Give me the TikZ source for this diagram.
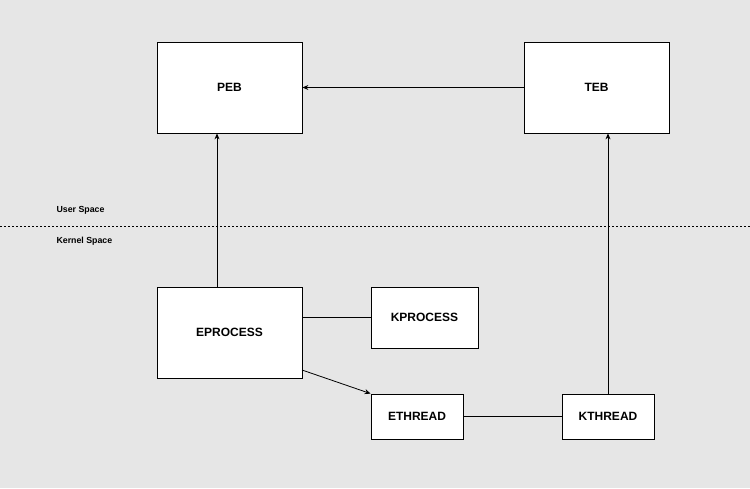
\documentclass[tikz,border=0pt]{standalone}
\usepackage{fontspec}
\setmainfont{Liberation Sans}
\usetikzlibrary{arrows.meta}
\definecolor{bggray}{HTML}{E6E6E6}
\begin{document}
\begin{tikzpicture}[x=1pt,y=-1pt,
      box/.style={
        draw=black,
        fill=white,
        line width=0.8pt,
        font=\bfseries\fontsize{12}{14}\selectfont,
        inner sep=0pt
      },
      lbl/.style={font=\bfseries\fontsize{8.8}{10}\selectfont, anchor=west},
      >={Stealth[length=6pt,width=5pt]}]
      % background
      \fill[bggray] (0,0) rectangle (750,488);
      \useasboundingbox (0,0) rectangle (750,488);

      \node[box, minimum width=145pt, minimum height=91pt] (peb) at (229.5,87.5) {PEB};
      \node[box, minimum width=145pt, minimum height=91pt] (teb) at (596.5,87.5) {TEB};
      \node[box, minimum width=145pt, minimum height=91pt] (eproc) at (229.5,332.5) {EPROCESS};
      \node[box, minimum width=107pt, minimum height=61pt] (kproc) at (424.5,317.5) {KPROCESS};
      \node[box, minimum width=92pt, minimum height=45pt] (ethr) at (417,416.5) {ETHREAD};
      \node[box, minimum width=92pt, minimum height=45pt] (kthr) at (608,416.5) {KTHREAD};

      % user / kernel split
      \coordinate (sl) at (0,226);
      \coordinate (sr) at (750,226);
      \draw[dashed, dash pattern=on 2pt off 2pt, line width=0.8pt] (sl) -- (sr);
      \node[lbl] (us) at (53,210.5) {User Space};
      \node[lbl] (ks) at (53,241) {Kernel Space};

      \draw[->, line width=0.8pt] (teb.west) -- (peb.east);
      \draw[->, line width=0.8pt] (eproc.north -| 217,0) -- (peb.south -| 217,0);
      \draw[->, line width=0.8pt] (kthr.north) -- (teb.south -| kthr.north);
      \draw[line width=0.8pt] (eproc.east |- kproc.west) -- (kproc.west);
      \draw[->, line width=0.8pt] (302,370) -- (ethr.north west);
      \draw[line width=0.8pt] (ethr.east) -- (kthr.west);
    \end{tikzpicture}
\end{document}
